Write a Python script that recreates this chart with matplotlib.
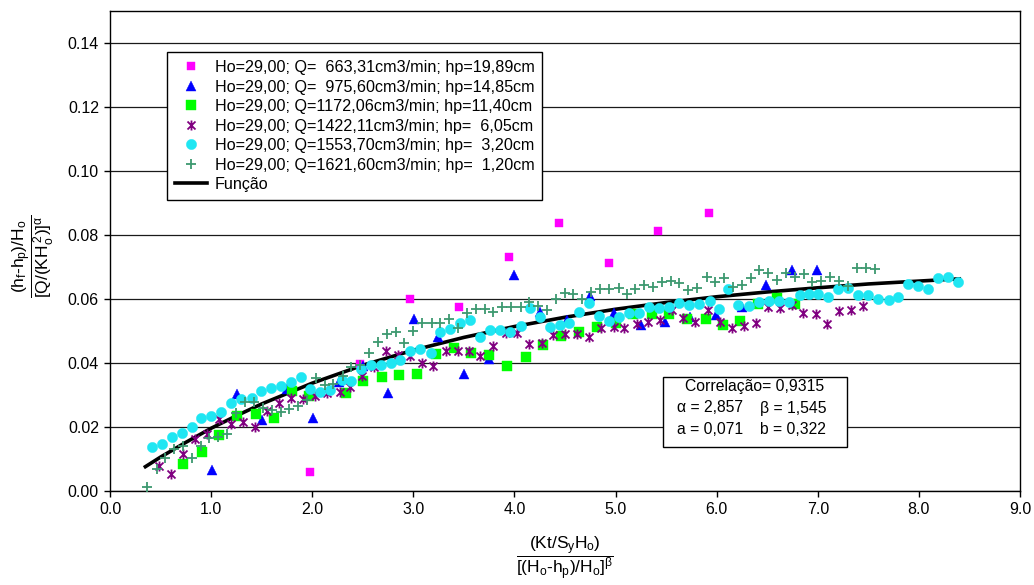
import matplotlib
matplotlib.use("Agg")
import matplotlib.pyplot as plt
from matplotlib.path import Path
from matplotlib.patches import Rectangle

plt.rcParams['font.family'] = ['Liberation Sans', 'DejaVu Sans']
plt.rcParams['mathtext.fontset'] = 'custom'
plt.rcParams['mathtext.rm'] = 'Liberation Sans'
plt.rcParams['mathtext.it'] = 'Liberation Sans'
plt.rcParams['mathtext.bf'] = 'Liberation Sans:bold'
plt.rcParams['mathtext.sf'] = 'Liberation Sans'

# ---------------- data ----------------
labels = [
    "Ho=29,00; Q=  663,31cm3/min; hp=19,89cm",
    "Ho=29,00; Q=  975,60cm3/min; hp=14,85cm",
    "Ho=29,00; Q=1172,06cm3/min; hp=11,40cm",
    "Ho=29,00; Q=1422,11cm3/min; hp=  6,05cm",
    "Ho=29,00; Q=1553,70cm3/min; hp=  3,20cm",
    "Ho=29,00; Q=1621,60cm3/min; hp=  1,20cm",
]
func_label = "Função"

s1_x = [1.98, 2.47, 2.97, 3.45, 3.95, 4.44, 4.94, 5.42, 5.92]
s1_y = [0.0059, 0.0397, 0.0600, 0.0575, 0.0731, 0.0838, 0.0713, 0.0813, 0.0869]

s2_x = [1.01, 1.26, 1.50, 1.75, 2.01, 2.26, 2.50, 2.75, 3.01, 3.24, 3.50, 3.75, 4.00,
        4.25, 4.52, 4.75, 4.98, 5.25, 5.49, 5.74, 5.99, 6.25, 6.49, 6.75, 6.99]
s2_y = [0.0066, 0.0303, 0.0222, 0.0320, 0.0228, 0.0340, 0.0390, 0.0306, 0.0538, 0.0480,
        0.0366, 0.0412, 0.0675, 0.0560, 0.0534, 0.0610, 0.0556, 0.0520, 0.0528, 0.0544,
        0.0550, 0.0575, 0.0644, 0.0690, 0.0690]

s3_x = [0.72, 0.91, 1.08, 1.26, 1.44, 1.62, 1.80, 1.97, 2.33, 2.50, 2.69, 2.86, 3.04,
        3.22, 3.40, 3.57, 3.75, 3.93, 4.11, 4.28, 4.46, 4.64, 4.82, 5.00, 5.17, 5.36,
        5.53, 5.71, 5.89, 6.06, 6.23, 6.41, 6.60, 6.77]
s3_y = [0.0084, 0.0122, 0.0175, 0.0234, 0.0240, 0.0228, 0.0313, 0.0297, 0.0306, 0.0344,
        0.0357, 0.0362, 0.0366, 0.0428, 0.0447, 0.0431, 0.0425, 0.0390, 0.0420, 0.0456,
        0.0484, 0.0497, 0.0513, 0.0525, 0.0553, 0.0553, 0.0553, 0.0538, 0.0538, 0.0520,
        0.0531, 0.0584, 0.0603, 0.0584]

s4_x = [0.48, 0.60, 0.72, 0.84, 0.96, 1.08, 1.20, 1.32, 1.43, 1.55,
        1.67, 1.79, 1.91, 2.03, 2.15, 2.27, 2.37, 2.49, 2.61, 2.73,
        2.85, 2.97, 3.09, 3.19, 3.32, 3.44, 3.55, 3.66, 3.79, 3.92,
        4.03, 4.14, 4.27, 4.38, 4.50, 4.62, 4.74, 4.86, 4.98, 5.08,
        5.21, 5.32, 5.44, 5.56, 5.67, 5.79, 5.91, 6.03, 6.15, 6.27,
        6.39, 6.51, 6.63, 6.75, 6.85, 6.98, 7.09, 7.21, 7.33, 7.45]
s4_y = [0.0078, 0.0053, 0.0116, 0.0162, 0.0178, 0.0225, 0.0209, 0.0216, 0.0200, 0.0250,
        0.0274, 0.0290, 0.0288, 0.0297, 0.0306, 0.0310, 0.0325, 0.0359, 0.0388, 0.0438,
        0.0425, 0.0422, 0.0400, 0.0390, 0.0438, 0.0438, 0.0438, 0.0422, 0.0453, 0.0494,
        0.0494, 0.0459, 0.0463, 0.0488, 0.0491, 0.0491, 0.0481, 0.0509, 0.0513, 0.0509,
        0.0522, 0.0528, 0.0534, 0.0566, 0.0541, 0.0528, 0.0566, 0.0528, 0.0509, 0.0516,
        0.0525, 0.0575, 0.0572, 0.0581, 0.0556, 0.0553, 0.0522, 0.0563, 0.0566, 0.0578]

s5_x = [0.42, 0.51, 0.61, 0.71, 0.81, 0.90, 1.00, 1.10, 1.20, 1.30,
        1.40, 1.49, 1.59, 1.69, 1.79, 1.89, 1.98, 2.08, 2.18, 2.29,
        2.38, 2.48, 2.58, 2.68, 2.78, 2.87, 2.97, 3.07, 3.17, 3.26,
        3.36, 3.46, 3.56, 3.66, 3.76, 3.86, 3.96, 4.06, 4.15, 4.25,
        4.35, 4.45, 4.54, 4.64, 4.74, 4.84, 4.94, 5.03, 5.13, 5.23,
        5.33, 5.43, 5.53, 5.63, 5.73, 5.83, 5.93, 6.02, 6.11, 6.21,
        6.32, 6.42, 6.52, 6.62, 6.72, 6.82, 6.91, 7.00, 7.10, 7.20,
        7.30, 7.40, 7.50, 7.60, 7.70, 7.79, 7.89, 7.99, 8.09, 8.19,
        8.29, 8.39]
s5_y = [0.0138, 0.0147, 0.0169, 0.0181, 0.0200, 0.0228, 0.0234, 0.0247, 0.0275, 0.0288,
        0.0291, 0.0313, 0.0322, 0.0328, 0.0341, 0.0356, 0.0319, 0.0309, 0.0316, 0.0347,
        0.0344, 0.0381, 0.0394, 0.0394, 0.0400, 0.0409, 0.0438, 0.0444, 0.0431, 0.0497,
        0.0506, 0.0525, 0.0534, 0.0481, 0.0503, 0.0503, 0.0497, 0.0516, 0.0572, 0.0544,
        0.0513, 0.0519, 0.0525, 0.0559, 0.0588, 0.0547, 0.0531, 0.0544, 0.0556, 0.0556,
        0.0575, 0.0572, 0.0575, 0.0588, 0.0581, 0.0584, 0.0594, 0.0569, 0.0631, 0.0581,
        0.0578, 0.0591, 0.0594, 0.0594, 0.0591, 0.0613, 0.0616, 0.0616, 0.0606, 0.0631,
        0.0634, 0.0613, 0.0613, 0.0600, 0.0597, 0.0606, 0.0647, 0.0641, 0.0631, 0.0666,
        0.0669, 0.0653]

s6_x = [0.37, 0.46, 0.54, 0.63, 0.72, 0.81, 0.90, 0.98, 1.07, 1.16,
        1.25, 1.34, 1.42, 1.51, 1.60, 1.69, 1.77, 1.86, 1.95, 2.04,
        2.13, 2.21, 2.30, 2.38, 2.47, 2.56, 2.65, 2.74, 2.83, 2.91,
        3.00, 3.09, 3.18, 3.26, 3.35, 3.44, 3.53, 3.62, 3.71, 3.79,
        3.88, 3.97, 4.06, 4.14, 4.23, 4.32, 4.41, 4.50, 4.58, 4.67,
        4.76, 4.85, 4.94, 5.03, 5.11, 5.19, 5.28, 5.37, 5.46, 5.55,
        5.63, 5.72, 5.81, 5.90, 5.98, 6.07, 6.16, 6.25, 6.34, 6.42,
        6.51, 6.60, 6.69, 6.77, 6.86, 6.94, 7.03, 7.12, 7.21, 7.30,
        7.39, 7.48, 7.57]
s6_y = [0.0013, 0.0069, 0.0103, 0.0131, 0.0141, 0.0103, 0.0141, 0.0166, 0.0169, 0.0178,
        0.0244, 0.0278, 0.0278, 0.0259, 0.0253, 0.0247, 0.0256, 0.0266, 0.0284, 0.0353,
        0.0331, 0.0334, 0.0359, 0.0388, 0.0394, 0.0431, 0.0466, 0.0491, 0.0497, 0.0463,
        0.0500, 0.0525, 0.0525, 0.0525, 0.0538, 0.0509, 0.0556, 0.0569, 0.0569, 0.0559,
        0.0575, 0.0575, 0.0575, 0.0591, 0.0578, 0.0566, 0.0600, 0.0619, 0.0616, 0.0600,
        0.0622, 0.0631, 0.0631, 0.0634, 0.0616, 0.0631, 0.0644, 0.0638, 0.0653, 0.0656,
        0.0650, 0.0628, 0.0634, 0.0669, 0.0653, 0.0666, 0.0638, 0.0644, 0.0666, 0.0691,
        0.0681, 0.0659, 0.0681, 0.0669, 0.0678, 0.0653, 0.0656, 0.0669, 0.0656, 0.0641,
        0.0697, 0.0697, 0.0694]

func_x = [0.35, 0.5, 0.75, 1.0, 1.25, 1.5, 2.0, 2.5, 3.0, 3.5, 4.0, 4.5, 5.0, 5.5,
          6.0, 6.5, 7.0, 7.5, 8.0, 8.4]
func_y = [0.0076, 0.0106, 0.0152, 0.0196, 0.0235, 0.0272, 0.0337, 0.0393, 0.0440,
          0.0480, 0.0514, 0.0543, 0.0568, 0.0589, 0.0607, 0.0622, 0.0635, 0.0647,
          0.0656, 0.0663]

x_ticks = [0, 1, 2, 3, 4, 5, 6, 7, 8, 9]
y_ticks = [0.00, 0.02, 0.04, 0.06, 0.08, 0.10, 0.12, 0.14]

corr_text = "Correlação= 0,9315"
alpha_text = "α = 2,857"
beta_text = "β = 1,545"
a_text = "a = 0,071"
b_text = "b = 0,322"

HY = "\u2010"  # typographic hyphen (not a math minus)
y_label = r'$\dfrac{(h_f' + HY + r'h_p)/H_o}{[Q/(KH_o^{\,2})]^{\alpha}}$'
x_label = r'$\dfrac{(Kt/S_yH_o)}{[(H_o' + HY + r'h_p)/H_o]^{\beta}}$'

# ---------------- figure ----------------
fig = plt.figure(figsize=(10.34, 5.85), dpi=100)
ax = fig.add_axes([110 / 1034, 94 / 585, 910 / 1034, 480 / 585])

ax.set_xlim(0, 9)
ax.set_ylim(0, 0.15)
ax.set_xticks(x_ticks)
ax.set_xticklabels([f"{v:.1f}" for v in x_ticks])
ax.set_yticks(y_ticks)
ax.set_yticklabels([f"{v:.2f}" for v in y_ticks])
ax.tick_params(axis='both', direction='out', length=4, width=1, labelsize=11.5,
               colors='black', pad=4)
ax.yaxis.grid(True, color='#1a1a1a', linewidth=0.9)
ax.set_axisbelow(True)
for sp in ax.spines.values():
    sp.set_color('black')
    sp.set_linewidth(1.0)

fline, = ax.plot(func_x, func_y, color='black', lw=2.6, zorder=2, label=func_label)

ast = Path([(-1, -1), (1, 1), (-1, 1), (1, -1), (0, -1.25), (0, 1.25)],
           [Path.MOVETO, Path.LINETO, Path.MOVETO, Path.LINETO, Path.MOVETO, Path.LINETO])

h1, = ax.plot(s1_x, s1_y, ls='none', marker='s', ms=6.4, mfc='#FF00FF', mec='#FF00FF',
              mew=0.3, zorder=3, label=labels[0])
h2, = ax.plot(s2_x, s2_y, ls='none', marker='^', ms=7.0, mfc='#0000FF', mec='#0000FF',
              mew=0.3, zorder=3, label=labels[1])
h3, = ax.plot(s3_x, s3_y, ls='none', marker='s', ms=6.6, mfc='#00FF00', mec='#00FF00',
              mew=0.3, zorder=3, label=labels[2])
h4, = ax.plot(s4_x, s4_y, ls='none', marker=ast, ms=7.2, mfc='none', mec='#800080',
              mew=1.3, zorder=3, label=labels[3])
h5, = ax.plot(s5_x, s5_y, ls='none', marker='o', ms=7.4, mfc='#1FE6F2', mec='#1FE6F2',
              mew=0.3, zorder=3, label=labels[4])
h6, = ax.plot(s6_x, s6_y, ls='none', marker='+', ms=7.4, mec='#3D9970',
              mew=1.3, zorder=3, label=labels[5])

handles = [h1, h2, h3, h4, h5, h6, fline]
leg = ax.legend(handles=handles, loc='upper left',
                bbox_to_anchor=((167 - 110) / 910, (491 - 52) / 480),
                borderaxespad=0, fancybox=False, framealpha=1, edgecolor='black',
                fontsize=11.6, labelspacing=0.28, handlelength=2.0, handletextpad=0.45,
                borderpad=0.5, numpoints=1)
leg.get_frame().set_linewidth(1.0)
leg.set_zorder(5)

# annotation box
bx0, bx1 = (663 - 110) / 910, (847 - 110) / 910
by0, by1 = (491 - 447) / 480, (491 - 377) / 480
ax.add_patch(Rectangle((bx0, by0), bx1 - bx0, by1 - by0, transform=ax.transAxes,
                       facecolor='white', edgecolor='black', lw=1.0, zorder=5))
fs = 11.3
ax.text((755 - 110) / 910, (491 - 386) / 480, corr_text, transform=ax.transAxes,
        ha='center', va='center', fontsize=fs, zorder=6)
ax.text((677 - 110) / 910, (491 - 408) / 480, alpha_text, transform=ax.transAxes,
        ha='left', va='center', fontsize=fs, zorder=6)
ax.text((760 - 110) / 910, (491 - 408) / 480, beta_text, transform=ax.transAxes,
        ha='left', va='center', fontsize=fs, zorder=6)
ax.text((677 - 110) / 910, (491 - 429) / 480, a_text, transform=ax.transAxes,
        ha='left', va='center', fontsize=fs, zorder=6)
ax.text((760 - 110) / 910, (491 - 429) / 480, b_text, transform=ax.transAxes,
        ha='left', va='center', fontsize=fs, zorder=6)

# axis labels (fractions)
ax.set_ylabel(y_label, fontsize=12.5, ha='center', va='center')
ax.yaxis.set_label_coords((33 - 110) / 910, 0.49)
ax.set_xlabel(x_label, fontsize=12.5, ha='center', va='center')
ax.xaxis.set_label_coords(0.5, (491 - 558) / 480)

fig.savefig('out.png', dpi=100)
